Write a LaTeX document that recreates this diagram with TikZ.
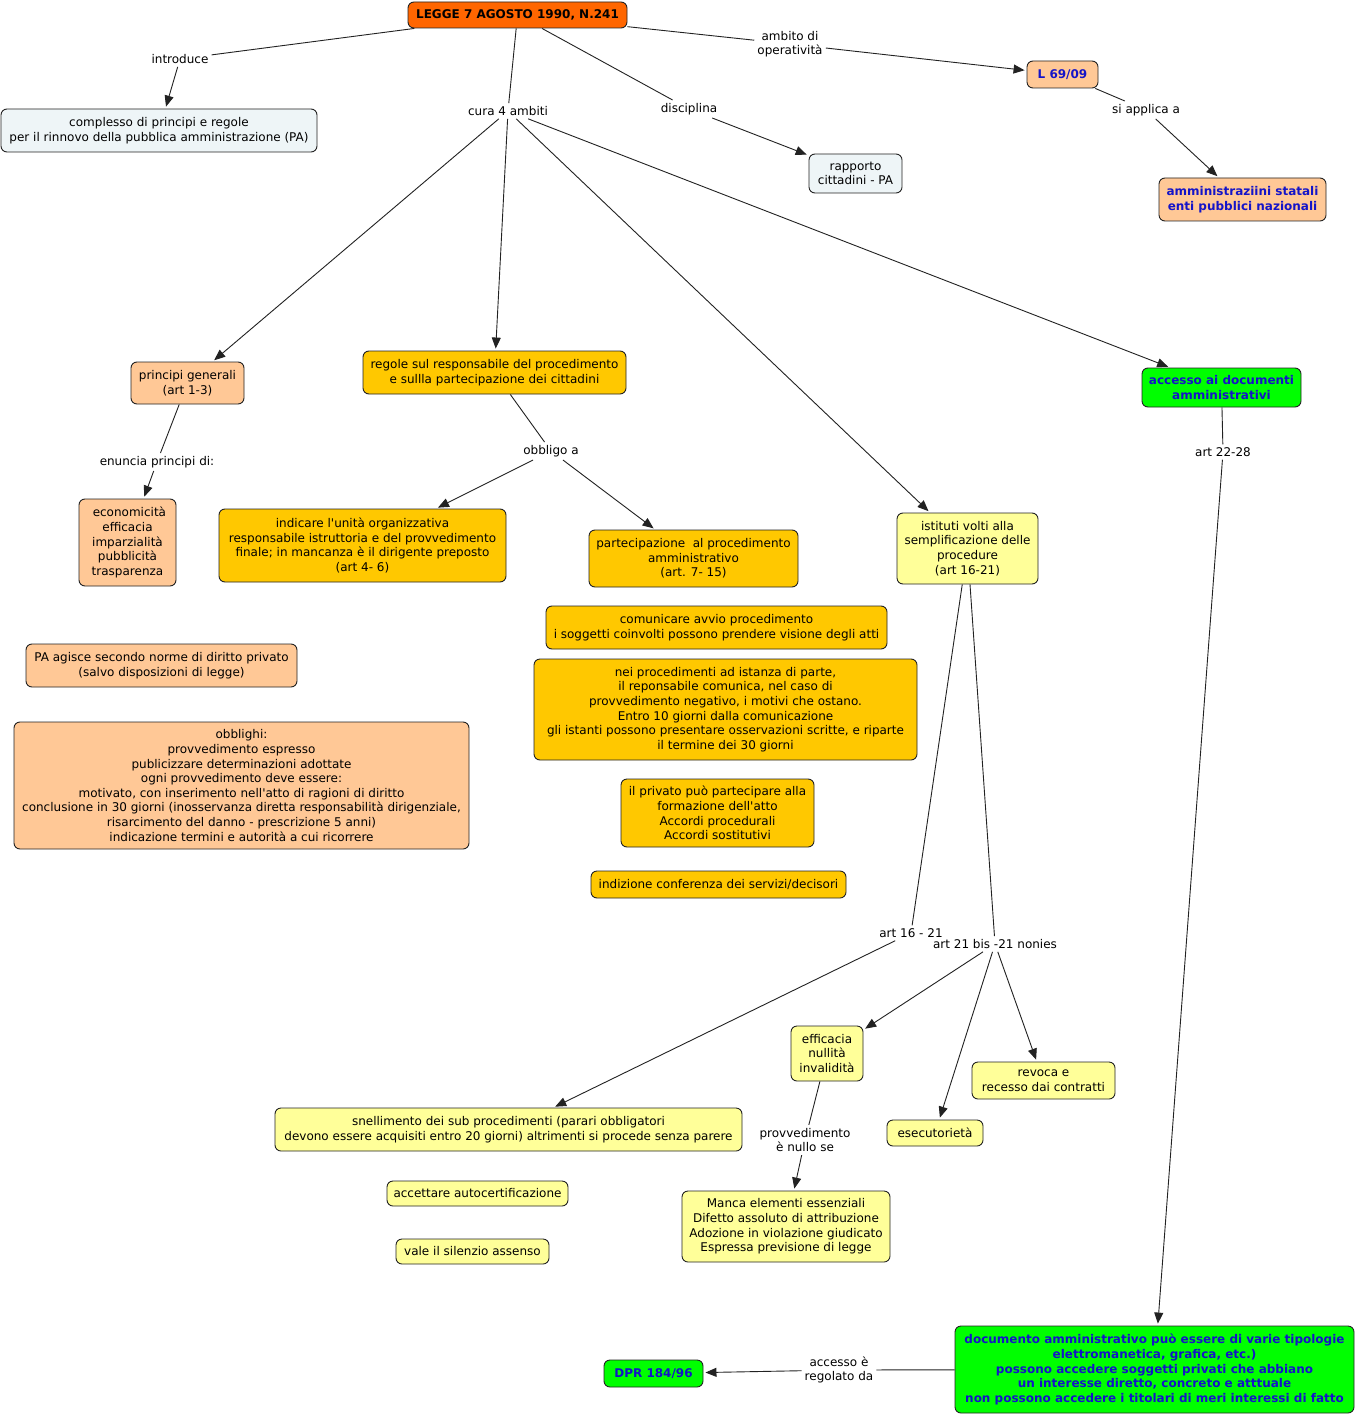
\documentclass[tikz,border=0pt]{standalone}
\usepackage{fontspec}
\setmainfont{DejaVu Sans}[Ligatures=TeXOff]
\usetikzlibrary{arrows.meta}
\definecolor{cOrange}{HTML}{FF6600}
\definecolor{cGrey}{HTML}{EEF5F7}
\definecolor{cPeach}{HTML}{FFC896}
\definecolor{cGold}{HTML}{FFC800}
\definecolor{cYel}{HTML}{FFFF99}
\definecolor{cGreen}{HTML}{00FF00}
\definecolor{cBlue}{HTML}{1414C8}
\definecolor{cLine}{HTML}{222222}
\tikzset{
  box/.style={draw=cLine, rounded corners=6pt, align=center, inner sep=2pt, line width=0.9pt,
    font=\fontsize{12}{14.6}\selectfont},
  bbox/.style={box, font=\fontsize{12}{14.6}\selectfont\bfseries},
  lbl/.style={align=center, inner sep=3pt, font=\fontsize{12}{14.6}\selectfont},
  ln/.style={draw=cLine, line width=0.9pt},
  arr/.style={ln, -{Triangle[length=11pt,width=9pt]}, shorten >=2pt},
}
\begin{document}
\begin{tikzpicture}[x=1pt,y=-1pt]
\useasboundingbox[fill=white] (0,0) rectangle (1357,1415);

% boxes
\node[bbox, fill=cOrange, minimum width=219pt, minimum height=26pt] (legge) at (517.5,15) {LEGGE 7 AGOSTO 1990, N.241};
\node[box, fill=cGrey, minimum width=316pt, minimum height=43pt] (complesso) at (159,130.5) {complesso di principi e regole\\per il rinnovo della pubblica amministrazione (PA)};
\node[box, fill=cGrey, minimum width=93pt, minimum height=39pt] (rapporto) at (855.5,173.5) {rapporto\\cittadini - PA};
\node[bbox, fill=cPeach, text=cBlue, minimum width=71pt, minimum height=27pt] (l69) at (1062.5,74.5) {L 69/09};
\node[bbox, fill=cPeach, text=cBlue, minimum width=167pt, minimum height=43pt] (amm) at (1242.5,199.5) {amministraziini statali\\enti pubblici nazionali};
\node[box, fill=cPeach, minimum width=113pt, minimum height=42pt] (princ) at (187.5,383) {principi generali\\(art 1-3)};
\node[box, fill=cGold, minimum width=263pt, minimum height=43pt] (regole) at (494.5,372.5) {regole sul responsabile del procedimento\\e sullla partecipazione dei cittadini};
\node[bbox, fill=cGreen, text=cBlue, minimum width=159pt, minimum height=39pt] (accesso) at (1221.5,387.5) {accesso ai documenti\\amministrativi};
\node[box, fill=cPeach, minimum width=97pt, minimum height=87pt] (econ) at (127.5,542.5) {\ economicità\\efficacia\\imparzialità\\pubblicità\\trasparenza};
\node[box, fill=cGold, minimum width=287pt, minimum height=73pt] (indicare) at (362.5,545.5) {indicare l'unità organizzativa\\responsabile istruttoria e del provvedimento\\finale; in mancanza è il dirigente preposto\\(art 4- 6)};
\node[box, fill=cGold, minimum width=209pt, minimum height=57pt] (partec) at (693.5,558.5) {partecipazione\ \ al procedimento\\amministrativo\\(art. 7- 15)};
\node[box, fill=cYel, minimum width=141pt, minimum height=71pt] (istituti) at (967.5,548.5) {istituti volti alla\\semplificazione delle\\procedure\\(art 16-21)};
\node[box, fill=cGold, minimum width=341pt, minimum height=43pt] (comun) at (716.5,627.5) {comunicare avvio procedimento\\i soggetti coinvolti possono prendere visione degli atti};
\node[box, fill=cGold, minimum width=383pt, minimum height=101pt] (nei) at (725.5,709.5) {nei procedimenti ad istanza di parte,\\il reponsabile comunica, nel caso di\\provvedimento negativo, i motivi che ostano.\\Entro 10 giorni dalla comunicazione\\gli istanti possono presentare osservazioni scritte, e riparte\\il termine dei 30 giorni};
\node[box, fill=cPeach, minimum width=271pt, minimum height=43pt] (paag) at (161.5,665.5) {PA agisce secondo norme di diritto privato\\(salvo disposizioni di legge)};
\node[box, fill=cPeach, minimum width=455pt, minimum height=127pt] (obbl) at (241.5,785.5) {obblighi:\\provvedimento espresso\\publicizzare determinazioni adottate\\ogni provvedimento deve essere:\\motivato, con inserimento nell'atto di ragioni di diritto\\conclusione in 30 giorni (inosservanza diretta responsabilità dirigenziale,\\risarcimento del danno - prescrizione 5 anni)\\indicazione termini e autorità a cui ricorrere};
\node[box, fill=cGold, minimum width=193pt, minimum height=68pt] (privato) at (717.5,813) {il privato può partecipare alla\\formazione dell'atto\\Accordi procedurali\\Accordi sostitutivi};
\node[box, fill=cGold, minimum width=255pt, minimum height=27pt] (indiz) at (718.5,884.5) {indizione conferenza dei servizi/decisori};
\node[box, fill=cYel, minimum width=72pt, minimum height=55pt] (effic) at (827,1053.5) {efficacia\\nullità\\invalidità};
\node[box, fill=cYel, minimum width=143pt, minimum height=37pt] (revoca) at (1043.5,1080.5) {revoca e\\recesso dai contratti};
\node[box, fill=cYel, minimum width=467pt, minimum height=43pt] (snell) at (508.5,1129.5) {snellimento dei sub procedimenti (parari obbligatori\\devono essere acquisiti entro 20 giorni) altrimenti si procede senza parere};
\node[box, fill=cYel, minimum width=96pt, minimum height=26pt] (esec) at (935,1133) {esecutorietà};
\node[box, fill=cYel, minimum width=181pt, minimum height=25pt] (accett) at (477.5,1193.5) {accettare autocertificazione};
\node[box, fill=cYel, minimum width=153pt, minimum height=25pt] (vale) at (472.5,1251.5) {vale il silenzio assenso};
\node[box, fill=cYel, minimum width=208pt, minimum height=71pt] (manca) at (786,1226.5) {Manca elementi essenziali\\Difetto assoluto di attribuzione\\Adozione in violazione giudicato\\Espressa previsione di legge};
\node[bbox, fill=cGreen, text=cBlue, minimum width=399pt, minimum height=87pt] (docum) at (1154.5,1369.5) {documento amministrativo può essere di varie tipologie\\elettromanetica, grafica, etc.)\\possono accedere soggetti privati che abbiano\\un interesse diretto, concreto e atttuale\\non possono accedere i titolari di meri interessi di fatto};
\node[bbox, fill=cGreen, text=cBlue, minimum width=99pt, minimum height=27pt] (dpr) at (653.5,1373.5) {DPR 184/96};

% labels
\node[lbl] (lintro) at (180,59) {introduce};
\node[lbl] (lambito) at (790,44) {ambito di\\operatività};
\node[lbl] (lcura) at (508,111) {cura 4 ambiti};
\node[lbl] (ldisc) at (689,109) {disciplina};
\node[lbl] (lsiapp) at (1146,110) {si applica a};
\node[lbl] (lenun) at (157,462) {enuncia principi di:};
\node[lbl] (lobbl) at (551,451) {obbligo a};
\node[lbl] (lart2228) at (1223,452) {art 22-28};
\node[lbl] (lart1621) at (911,933) {art 16 - 21};
\node[lbl] (lart21bis) at (995,944) {art 21 bis -21 nonies};
\node[lbl] (lprovv) at (805,1140) {provvedimento\\è nullo se};
\node[lbl] (laccr) at (839,1370) {accesso è\\regolato da};

% connectors
\draw[ln] (legge) -- (lintro);
\draw[arr] (lintro) -- (complesso);
\draw[ln] (legge) -- (lambito);
\draw[arr] (lambito) -- (l69);
\draw[ln] (legge) -- (lcura);
\draw[arr] (lcura) -- (princ);
\draw[arr] (lcura) -- (regole);
\draw[arr] (lcura) -- (istituti);
\draw[arr] (lcura) -- (accesso);
\draw[ln] (legge) -- (ldisc);
\draw[arr] (ldisc) -- (rapporto);
\draw[ln] (l69) -- (lsiapp);
\draw[arr] (lsiapp) -- (amm);
\draw[ln] (princ) -- (lenun);
\draw[arr] (lenun) -- (econ);
\draw[ln] (regole) -- (lobbl);
\draw[arr] (lobbl) -- (indicare);
\draw[arr] (lobbl) -- (partec);
\draw[ln] (accesso) -- (lart2228);
\draw[arr] (lart2228) -- (docum);
\draw[ln] (istituti) -- (lart1621);
\draw[ln] (istituti) -- (lart21bis);
\draw[arr] (lart1621) -- (snell);
\draw[arr] (lart21bis) -- (effic);
\draw[arr] (lart21bis) -- (esec);
\draw[arr] (lart21bis) -- (revoca);
\draw[ln] (effic) -- (lprovv);
\draw[arr] (lprovv) -- (manca);
\draw[ln] (docum) -- (laccr);
\draw[arr] (laccr) -- (dpr);
\end{tikzpicture}
\end{document}
